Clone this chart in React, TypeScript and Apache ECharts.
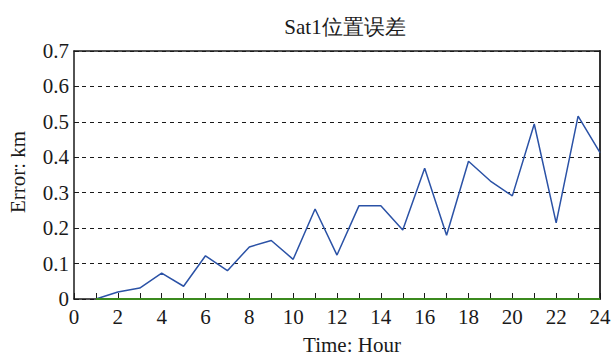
import React, { useEffect, useRef } from "react";
import * as echarts from "echarts";

// Hourly position error of Sat1 (km)
const hours: number[] = [1, 2, 3, 4, 5, 6, 7, 8, 9, 10, 11, 12, 13, 14, 15, 16, 17, 18, 19, 20, 21, 22, 23, 24];
const errorKm: number[] = [
  0.0, 0.02, 0.031, 0.073, 0.036, 0.122, 0.08, 0.147, 0.165, 0.112, 0.254, 0.124,
  0.263, 0.263, 0.195, 0.369, 0.18, 0.389, 0.333, 0.291, 0.494, 0.215, 0.516, 0.413,
];
const baseline: number[] = [
  0, 0, 0, 0, 0, 0, 0, 0, 0, 0, 0, 0, 0, 0, 0, 0, 0, 0, 0, 0, 0, 0, 0, 0,
];

const SERIF = "'Liberation Serif', serif";
const INK = "#1a1a1a";

export default function App() {
  const ref = useRef<HTMLDivElement>(null);

  useEffect(() => {
    if (!ref.current) return;
    const chart = echarts.init(ref.current, null, { renderer: "svg" });
    const errorPairs = hours.map((h, i) => [h, errorKm[i]]);
    const basePairs = hours.map((h, i) => [h, baseline[i]]);

    const tickText = { fontSize: 21, fontFamily: SERIF, color: INK };

    chart.setOption({
      animation: false,
      backgroundColor: "#ffffff",
      textStyle: { fontFamily: SERIF, color: INK },
      grid: { left: 74, right: 16, top: 51, bottom: 57 },
      graphic: [
        {
          type: "text",
          x: 345,
          y: 27,
          style: {
            text: "Sat1位置误差",
            font: `21px ${SERIF}`,
            fill: INK,
            align: "center",
            verticalAlign: "middle",
          },
        },
        {
          type: "text",
          x: 18,
          y: 172,
          rotation: Math.PI / 2,
          style: {
            text: "Error: km",
            font: `21px ${SERIF}`,
            fill: INK,
            align: "center",
            verticalAlign: "middle",
          },
        },
        {
          type: "text",
          x: 352,
          y: 345,
          style: {
            text: "Time: Hour",
            font: `21px ${SERIF}`,
            fill: INK,
            align: "center",
            verticalAlign: "middle",
          },
        },
      ],
      xAxis: [
        {
          type: "value",
          min: 0,
          max: 24,
          interval: 1,
          axisLine: { show: true, onZero: false, lineStyle: { color: INK, width: 1.5 } },
          axisTick: { show: true, inside: true, length: 6, lineStyle: { color: INK, width: 1 } },
          axisLabel: {
            ...tickText,
            margin: 7,
            formatter: (v: number) => (v % 2 === 0 ? String(v) : ""),
          },
          splitLine: { show: false },
        },
        {
          type: "value",
          position: "top",
          min: 0,
          max: 24,
          axisLine: { show: true, onZero: false, lineStyle: { color: INK, width: 1.5 } },
          axisTick: { show: false },
          axisLabel: { show: false },
          splitLine: { show: false },
        },
      ],
      yAxis: [
        {
          type: "value",
          min: 0,
          max: 0.7,
          interval: 0.1,
          axisLine: { show: true, onZero: false, lineStyle: { color: INK, width: 1.5 } },
          axisTick: { show: true, inside: true, length: 5, lineStyle: { color: INK } },
          axisLabel: {
            ...tickText,
            margin: 5,
            formatter: (v: number) => (v === 0 ? "0" : v.toFixed(1)),
          },
          splitLine: { show: true, lineStyle: { color: INK, type: [4, 4], width: 1 } },
        },
        {
          type: "value",
          position: "right",
          min: 0,
          max: 0.7,
          interval: 0.1,
          axisLine: { show: true, onZero: false, lineStyle: { color: "#333", width: 2 } },
          axisTick: { show: true, inside: true, length: 5, lineStyle: { color: INK } },
          axisLabel: { show: false },
          splitLine: { show: false },
        },
      ],
      series: [
        {
          type: "line",
          data: errorPairs,
          showSymbol: false,
          lineStyle: { color: "#2b52a6", width: 1.5 },
          z: 3,
        },
        {
          type: "line",
          data: basePairs,
          showSymbol: false,
          lineStyle: { color: "#3b8a1e", width: 2 },
          z: 4,
        },
      ],
    });

    return () => chart.dispose();
  }, []);

  return (
    <div
      ref={ref}
      style={{ position: "fixed", left: 0, top: 0, width: 616, height: 356, background: "#fff" }}
    />
  );
}
